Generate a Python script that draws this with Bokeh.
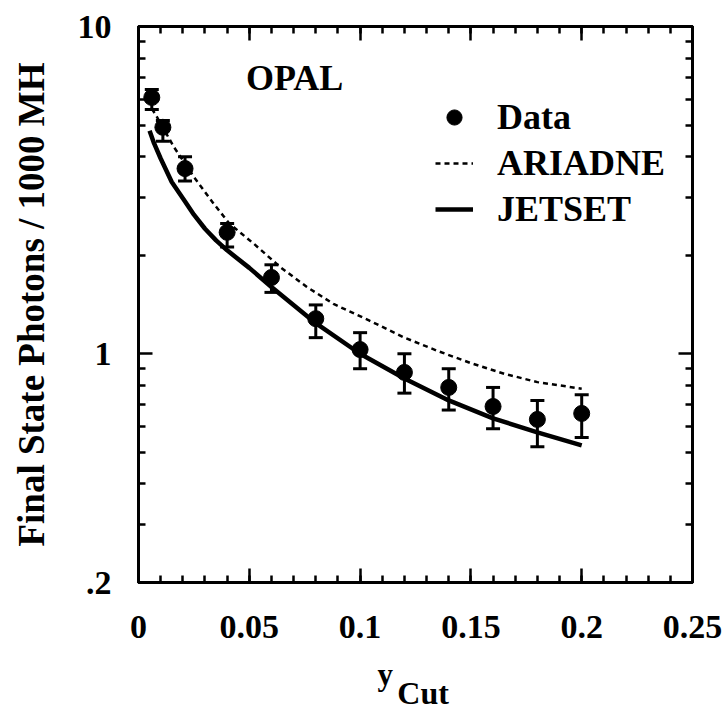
from bokeh.plotting import figure
from bokeh.models import (ColumnDataSource, FixedTicker, CustomJSTickFormatter, LinearAxis,
                          LogAxis, Whisker, TeeHead, Legend, LegendItem, Label)
from bokeh.layouts import column
from bokeh.core.properties import value
from bokeh.embed import file_html
from bokeh.resources import INLINE

# ---- data ----
data_x = [0.006, 0.011, 0.021, 0.04, 0.06, 0.08, 0.1, 0.12, 0.14, 0.16, 0.18, 0.2]
data_y = [6.07, 4.92, 3.68, 2.35, 1.71, 1.28, 1.03, 0.877, 0.789, 0.69, 0.63, 0.657]
data_up = [6.42, 5.16, 4.0, 2.5, 1.87, 1.41, 1.16, 1.0, 0.9, 0.789, 0.72, 0.75]
data_lo = [5.58, 4.46, 3.37, 2.12, 1.54, 1.12, 0.90, 0.758, 0.673, 0.59, 0.52, 0.555]

jetset_x = [0.005, 0.007, 0.01, 0.015, 0.021, 0.025, 0.03, 0.035, 0.04, 0.05, 0.06, 0.08,
            0.1, 0.12, 0.14, 0.16, 0.18, 0.2]
jetset_y = [4.80, 4.40, 3.95, 3.35, 2.92, 2.66, 2.41, 2.22, 2.07, 1.83, 1.60, 1.24,
            1.0, 0.84, 0.72, 0.635, 0.575, 0.525]

ariadne_x = [0.006, 0.0075, 0.016, 0.025, 0.034, 0.041, 0.052, 0.064, 0.076, 0.088, 0.104,
             0.12, 0.135, 0.15, 0.165, 0.18, 0.2]
ariadne_y = [5.6, 5.41, 4.28, 3.47, 2.87, 2.50, 2.17, 1.84, 1.60, 1.42, 1.265,
             1.12, 1.02, 0.936, 0.869, 0.819, 0.782]

x_ticks = [0, 0.05, 0.1, 0.15, 0.2, 0.25]
x_minor = [round(0.01 * i, 2) for i in range(26)]
y_ticks = [0.2, 1, 10]
y_minor = [0.3, 0.4, 0.5, 0.6, 0.7, 0.8, 0.9, 2, 3, 4, 5, 6, 7, 8, 9]

x_title = "y"
x_title_sub = "Cut"
y_title = "Final State Photons / 1000 MH"

FONT = "Liberation Serif"

p = figure(width=723, height=652, x_range=(0, 0.25), y_range=(0.2, 10),
           y_axis_type="log", output_backend="svg", toolbar_location=None, title=None,
           min_border_left=138, min_border_right=31, min_border_top=26,
           min_border_bottom=70)
p.grid.visible = False
p.outline_line_color = "black"
p.outline_line_width = 3
p.background_fill_color = "white"
p.border_fill_color = "white"

lbl_fmt_x = CustomJSTickFormatter(code="return tick.toString();")
lbl_fmt_y = CustomJSTickFormatter(code="return Math.abs(tick-0.2)<1e-9 ? '.2' : tick.toString();")
empty_fmt = CustomJSTickFormatter(code="return '';")


def style(ax):
    ax.axis_line_width = 3
    ax.axis_line_color = "black"
    ax.major_tick_in = 14
    ax.major_tick_out = 0
    ax.minor_tick_in = 7
    ax.minor_tick_out = 0
    ax.major_tick_line_width = 2.5
    ax.minor_tick_line_width = 2.5
    ax.major_label_text_font = FONT
    ax.major_label_text_font_style = "bold"
    ax.major_label_text_font_size = "34px"
    ax.major_label_text_color = "black"


xax = p.xaxis[0]
xax.ticker = FixedTicker(ticks=x_ticks, minor_ticks=x_minor)
xax.formatter = lbl_fmt_x
style(xax)
xax.major_label_standoff = 33

yax = p.yaxis[0]
yax.ticker = FixedTicker(ticks=y_ticks, minor_ticks=y_minor)
yax.formatter = lbl_fmt_y
style(yax)
yax.major_label_standoff = 27
yax.axis_label = y_title
yax.axis_label_text_font = FONT
yax.axis_label_text_font_style = "bold"
yax.axis_label_text_font_size = "37px"
yax.axis_label_text_color = "black"
yax.axis_label_standoff = 23

top = LinearAxis(ticker=FixedTicker(ticks=x_ticks, minor_ticks=x_minor), formatter=empty_fmt)
style(top)
top.major_label_standoff = 0
right = LogAxis(ticker=FixedTicker(ticks=y_ticks, minor_ticks=y_minor), formatter=empty_fmt)
style(right)
right.major_label_standoff = 0
p.add_layout(top, "above")
p.add_layout(right, "right")

src = ColumnDataSource(dict(x=data_x, y=data_y, up=data_up, lo=data_lo))

l_ari = p.line(ariadne_x, ariadne_y, line_color="black", line_width=2.5, line_dash="5 4")
l_jet = p.line(jetset_x, jetset_y, line_color="black", line_width=4.5)

p.add_layout(Whisker(source=src, base="x", upper="up", lower="lo", dimension="height",
                     line_width=3, line_color="black",
                     upper_head=TeeHead(size=14, line_width=3, line_color="black"),
                     lower_head=TeeHead(size=14, line_width=3, line_color="black")))
sc = p.scatter("x", "y", source=src, size=16, color="black")

legend = Legend(items=[LegendItem(label="Data", renderers=[sc]),
                       LegendItem(label="ARIADNE", renderers=[l_ari]),
                       LegendItem(label="JETSET", renderers=[l_jet])],
                location=(297, 352), border_line_color=None, background_fill_alpha=0,
                label_text_font=FONT, label_text_font_style="bold",
                label_text_font_size="36px", label_text_color="black",
                glyph_width=38, glyph_height=42,
                spacing=4, label_standoff=24, padding=0, margin=0)
p.add_layout(legend)

p.add_layout(Label(x=0.0485, y=6.95, text="OPAL", text_font=FONT, text_font_style="bold",
                   text_font_size="36px", text_baseline="alphabetic", text_color="black"))

# strip below the plot holding the x-axis title "y" with subscript "Cut";
# it shares the x range so its frame lines up with the main plot
p2 = figure(width=723, height=62, x_range=p.x_range, y_range=(62, 0),
            output_backend="svg", toolbar_location=None, title=None, min_border=0,
            x_axis_location=None, y_axis_location=None, outline_line_color=None)
p2.grid.visible = False
p2.background_fill_color = "white"
p2.border_fill_color = "white"
p2.text(x=[0.1078], y=[21.5], text=[x_title], text_font=value(FONT), text_font_style="bold",
        text_font_size="31px", text_baseline="alphabetic", text_color="black")
p2.text(x=[0.1168], y=[40.2], text=[x_title_sub], text_font=value(FONT), text_font_style="bold",
        text_font_size="32px", text_baseline="alphabetic", text_color="black")

open("out.html", "w").write(file_html(column(p, p2, spacing=0), INLINE))
